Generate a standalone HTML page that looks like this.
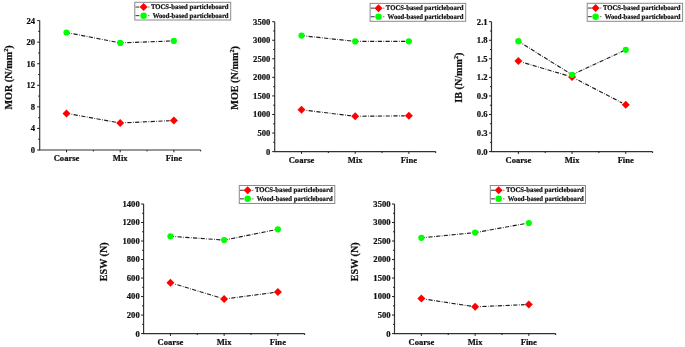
<!DOCTYPE html>
<html><head><meta charset="utf-8"><title>Particleboard properties</title>
<style>
html,body{margin:0;padding:0;background:#fff;}
body{width:685px;height:347px;overflow:hidden;font-family:"Liberation Serif",serif;}
svg{display:block;}
svg text{font-family:"Liberation Serif",serif;font-weight:bold;fill:#111;stroke:#111;stroke-width:0.22px;}
</style></head><body>
<svg width="685" height="347" viewBox="0 0 685 347">
<defs><filter id="soft" x="0" y="0" width="685" height="347" filterUnits="userSpaceOnUse"><feGaussianBlur stdDeviation="0.3"/></filter></defs>
<rect width="685" height="347" fill="#ffffff"/>
<g filter="url(#soft)">
<path d="M39.70 20.60V150.00H200.70" fill="none" stroke="#303030" stroke-width="1.15"/>
<text x="35.00" y="152.90" text-anchor="end" font-size="8.6">0</text>
<text x="35.00" y="131.33" text-anchor="end" font-size="8.6">4</text>
<text x="35.00" y="109.77" text-anchor="end" font-size="8.6">8</text>
<text x="35.00" y="88.20" text-anchor="end" font-size="8.6">12</text>
<text x="35.00" y="66.63" text-anchor="end" font-size="8.6">16</text>
<text x="35.00" y="45.07" text-anchor="end" font-size="8.6">20</text>
<text x="35.00" y="23.50" text-anchor="end" font-size="8.6">24</text>
<path d="M37.20 150.00H39.70M38.20 139.22H39.70M37.20 128.43H39.70M38.20 117.65H39.70M37.20 106.87H39.70M38.20 96.08H39.70M37.20 85.30H39.70M38.20 74.52H39.70M37.20 63.73H39.70M38.20 52.95H39.70M37.20 42.17H39.70M38.20 31.38H39.70M37.20 20.60H39.70M66.53 150.00v2.3M120.20 150.00v2.3M173.87 150.00v2.3M93.37 150.00v1.4M147.03 150.00v1.4M200.70 150.00v1.4" fill="none" stroke="#1c1c1c" stroke-width="1"/>
<text x="66.53" y="161.30" text-anchor="middle" font-size="8.6">Coarse</text>
<text x="120.20" y="161.30" text-anchor="middle" font-size="8.6">Mix</text>
<text x="173.87" y="161.30" text-anchor="middle" font-size="8.6">Fine</text>
<text transform="translate(11.70 77.40) rotate(-90)" text-anchor="middle" font-size="10.15">MOR (N/mm<tspan font-size="6.2" dy="-3.6">2</tspan><tspan dy="3.6">)</tspan></text>
<path d="M66.53 109.40l4 4l-4 4l-4 -4z" fill="#ff0000"/>
<path d="M120.20 119.00l4 4l-4 4l-4 -4z" fill="#ff0000"/>
<path d="M173.87 116.50l4 4l-4 4l-4 -4z" fill="#ff0000"/>
<circle cx="66.53" cy="32.50" r="3.1" fill="#00ff00"/>
<circle cx="120.20" cy="42.90" r="3.1" fill="#00ff00"/>
<circle cx="173.87" cy="40.90" r="3.1" fill="#00ff00"/>
<rect x="134.80" y="2.30" width="95.90" height="17.70" fill="#fff" stroke="#8a8a8a" stroke-width="1"/>
<path d="M135.50 7.05h3.9" stroke="#1c1c1c" stroke-width="1" stroke-opacity="0.9" fill="none"/>
<path d="M147.90 7.05h1.6" stroke="#1c1c1c" stroke-width="1" stroke-opacity="0.55" fill="none"/>
<path d="M135.50 15.65h3.9" stroke="#1c1c1c" stroke-width="1" stroke-opacity="0.9" fill="none"/>
<path d="M147.90 15.65h1.6" stroke="#1c1c1c" stroke-width="1" stroke-opacity="0.55" fill="none"/>
<path d="M143.60 3.05l4 4l-4 4l-4 -4z" fill="#ff0000"/>
<circle cx="143.60" cy="15.65" r="3.25" fill="#00ff00"/>
<text x="150.90" y="9.25" font-size="7.1" text-rendering="geometricPrecision" stroke="#151515" stroke-width="0.2" textLength="77.7" lengthAdjust="spacingAndGlyphs">TOCS-based particleboard</text>
<text x="152.70" y="17.65" font-size="7.1" text-rendering="geometricPrecision" stroke="#151515" stroke-width="0.2" textLength="75.9" lengthAdjust="spacingAndGlyphs">Wood-based particleboard</text>
<path d="M274.70 21.70V151.60H435.70" fill="none" stroke="#303030" stroke-width="1.15"/>
<text x="270.30" y="154.50" text-anchor="end" font-size="8.6">0</text>
<text x="270.30" y="135.94" text-anchor="end" font-size="8.6">500</text>
<text x="270.30" y="117.39" text-anchor="end" font-size="8.6">1000</text>
<text x="270.30" y="98.83" text-anchor="end" font-size="8.6">1500</text>
<text x="270.30" y="80.27" text-anchor="end" font-size="8.6">2000</text>
<text x="270.30" y="61.71" text-anchor="end" font-size="8.6">2500</text>
<text x="270.30" y="43.16" text-anchor="end" font-size="8.6">3000</text>
<text x="270.30" y="24.60" text-anchor="end" font-size="8.6">3500</text>
<path d="M272.20 151.60H274.70M273.20 142.32H274.70M272.20 133.04H274.70M273.20 123.76H274.70M272.20 114.49H274.70M273.20 105.21H274.70M272.20 95.93H274.70M273.20 86.65H274.70M272.20 77.37H274.70M273.20 68.09H274.70M272.20 58.81H274.70M273.20 49.54H274.70M272.20 40.26H274.70M273.20 30.98H274.70M272.20 21.70H274.70M301.53 151.60v2.3M355.20 151.60v2.3M408.87 151.60v2.3M328.37 151.60v1.4M382.03 151.60v1.4M435.70 151.60v1.4" fill="none" stroke="#1c1c1c" stroke-width="1"/>
<text x="301.53" y="162.90" text-anchor="middle" font-size="8.6">Coarse</text>
<text x="355.20" y="162.90" text-anchor="middle" font-size="8.6">Mix</text>
<text x="408.87" y="162.90" text-anchor="middle" font-size="8.6">Fine</text>
<text transform="translate(237.80 77.90) rotate(-90)" text-anchor="middle" font-size="10.15">MOE (N/mm<tspan font-size="6.2" dy="-3.6">2</tspan><tspan dy="3.6">)</tspan></text>
<path d="M301.53 105.80l4 4l-4 4l-4 -4z" fill="#ff0000"/>
<path d="M355.20 112.30l4 4l-4 4l-4 -4z" fill="#ff0000"/>
<path d="M408.87 111.80l4 4l-4 4l-4 -4z" fill="#ff0000"/>
<circle cx="301.53" cy="35.60" r="3.1" fill="#00ff00"/>
<circle cx="355.20" cy="41.40" r="3.1" fill="#00ff00"/>
<circle cx="408.87" cy="41.30" r="3.1" fill="#00ff00"/>
<rect x="370.10" y="3.40" width="95.60" height="17.90" fill="#fff" stroke="#8a8a8a" stroke-width="1"/>
<path d="M370.80 8.15h3.9" stroke="#1c1c1c" stroke-width="1" stroke-opacity="0.9" fill="none"/>
<path d="M382.80 8.15h1.6" stroke="#1c1c1c" stroke-width="1" stroke-opacity="0.55" fill="none"/>
<path d="M370.80 16.75h3.9" stroke="#1c1c1c" stroke-width="1" stroke-opacity="0.9" fill="none"/>
<path d="M382.80 16.75h1.6" stroke="#1c1c1c" stroke-width="1" stroke-opacity="0.55" fill="none"/>
<path d="M378.50 4.15l4 4l-4 4l-4 -4z" fill="#ff0000"/>
<circle cx="378.50" cy="16.75" r="3.25" fill="#00ff00"/>
<text x="385.80" y="10.35" font-size="7.1" text-rendering="geometricPrecision" stroke="#151515" stroke-width="0.2" textLength="77.7" lengthAdjust="spacingAndGlyphs">TOCS-based particleboard</text>
<text x="387.60" y="18.75" font-size="7.1" text-rendering="geometricPrecision" stroke="#151515" stroke-width="0.2" textLength="75.9" lengthAdjust="spacingAndGlyphs">Wood-based particleboard</text>
<path d="M491.50 21.70V151.60H652.60" fill="none" stroke="#303030" stroke-width="1.15"/>
<text x="487.60" y="154.50" text-anchor="end" font-size="8.6">0.0</text>
<text x="487.60" y="135.94" text-anchor="end" font-size="8.6">0.3</text>
<text x="487.60" y="117.39" text-anchor="end" font-size="8.6">0.6</text>
<text x="487.60" y="98.83" text-anchor="end" font-size="8.6">0.9</text>
<text x="487.60" y="80.27" text-anchor="end" font-size="8.6">1.2</text>
<text x="487.60" y="61.71" text-anchor="end" font-size="8.6">1.5</text>
<text x="487.60" y="43.16" text-anchor="end" font-size="8.6">1.8</text>
<text x="487.60" y="24.60" text-anchor="end" font-size="8.6">2.1</text>
<path d="M489.00 151.60H491.50M490.00 142.32H491.50M489.00 133.04H491.50M490.00 123.76H491.50M489.00 114.49H491.50M490.00 105.21H491.50M489.00 95.93H491.50M490.00 86.65H491.50M489.00 77.37H491.50M490.00 68.09H491.50M489.00 58.81H491.50M490.00 49.54H491.50M489.00 40.26H491.50M490.00 30.98H491.50M489.00 21.70H491.50M518.35 151.60v2.3M572.05 151.60v2.3M625.75 151.60v2.3M545.20 151.60v1.4M598.90 151.60v1.4M652.60 151.60v1.4" fill="none" stroke="#1c1c1c" stroke-width="1"/>
<text x="518.35" y="162.90" text-anchor="middle" font-size="8.6">Coarse</text>
<text x="572.05" y="162.90" text-anchor="middle" font-size="8.6">Mix</text>
<text x="625.75" y="162.90" text-anchor="middle" font-size="8.6">Fine</text>
<text transform="translate(461.70 77.60) rotate(-90)" text-anchor="middle" font-size="10.15">IB (N/mm<tspan font-size="6.2" dy="-3.6">2</tspan><tspan dy="3.6">)</tspan></text>
<path d="M518.35 57.10l4 4l-4 4l-4 -4z" fill="#ff0000"/>
<path d="M572.05 73.00l4 4l-4 4l-4 -4z" fill="#ff0000"/>
<path d="M625.75 100.80l4 4l-4 4l-4 -4z" fill="#ff0000"/>
<circle cx="518.35" cy="41.20" r="3.1" fill="#00ff00"/>
<circle cx="572.05" cy="74.80" r="3.1" fill="#00ff00"/>
<circle cx="625.75" cy="49.80" r="3.1" fill="#00ff00"/>
<rect x="587.20" y="3.30" width="95.40" height="18.00" fill="#fff" stroke="#8a8a8a" stroke-width="1"/>
<path d="M587.90 8.05h3.9" stroke="#1c1c1c" stroke-width="1" stroke-opacity="0.9" fill="none"/>
<path d="M599.90 8.05h1.6" stroke="#1c1c1c" stroke-width="1" stroke-opacity="0.55" fill="none"/>
<path d="M587.90 16.65h3.9" stroke="#1c1c1c" stroke-width="1" stroke-opacity="0.9" fill="none"/>
<path d="M599.90 16.65h1.6" stroke="#1c1c1c" stroke-width="1" stroke-opacity="0.55" fill="none"/>
<path d="M595.60 4.05l4 4l-4 4l-4 -4z" fill="#ff0000"/>
<circle cx="595.60" cy="16.65" r="3.25" fill="#00ff00"/>
<text x="602.90" y="10.25" font-size="7.1" text-rendering="geometricPrecision" stroke="#151515" stroke-width="0.2" textLength="77.7" lengthAdjust="spacingAndGlyphs">TOCS-based particleboard</text>
<text x="604.70" y="18.65" font-size="7.1" text-rendering="geometricPrecision" stroke="#151515" stroke-width="0.2" textLength="75.9" lengthAdjust="spacingAndGlyphs">Wood-based particleboard</text>
<path d="M143.60 204.00V333.60H304.70" fill="none" stroke="#303030" stroke-width="1.15"/>
<text x="139.70" y="336.50" text-anchor="end" font-size="8.6">0</text>
<text x="139.70" y="317.99" text-anchor="end" font-size="8.6">200</text>
<text x="139.70" y="299.47" text-anchor="end" font-size="8.6">400</text>
<text x="139.70" y="280.96" text-anchor="end" font-size="8.6">600</text>
<text x="139.70" y="262.44" text-anchor="end" font-size="8.6">800</text>
<text x="139.70" y="243.93" text-anchor="end" font-size="8.6">1000</text>
<text x="139.70" y="225.41" text-anchor="end" font-size="8.6">1200</text>
<text x="139.70" y="206.90" text-anchor="end" font-size="8.6">1400</text>
<path d="M141.10 333.60H143.60M142.10 324.34H143.60M141.10 315.09H143.60M142.10 305.83H143.60M141.10 296.57H143.60M142.10 287.31H143.60M141.10 278.06H143.60M142.10 268.80H143.60M141.10 259.54H143.60M142.10 250.29H143.60M141.10 241.03H143.60M142.10 231.77H143.60M141.10 222.51H143.60M142.10 213.26H143.60M141.10 204.00H143.60M170.45 333.60v2.3M224.15 333.60v2.3M277.85 333.60v2.3M197.30 333.60v1.4M251.00 333.60v1.4M304.70 333.60v1.4" fill="none" stroke="#1c1c1c" stroke-width="1"/>
<text x="170.45" y="344.90" text-anchor="middle" font-size="8.6">Coarse</text>
<text x="224.15" y="344.90" text-anchor="middle" font-size="8.6">Mix</text>
<text x="277.85" y="344.90" text-anchor="middle" font-size="8.6">Fine</text>
<text transform="translate(106.80 261.80) rotate(-90)" text-anchor="middle" font-size="10.15">ESW (N)</text>
<path d="M170.45 278.70l4 4l-4 4l-4 -4z" fill="#ff0000"/>
<path d="M224.15 295.00l4 4l-4 4l-4 -4z" fill="#ff0000"/>
<path d="M277.85 288.00l4 4l-4 4l-4 -4z" fill="#ff0000"/>
<circle cx="170.45" cy="236.30" r="3.1" fill="#00ff00"/>
<circle cx="224.15" cy="240.10" r="3.1" fill="#00ff00"/>
<circle cx="277.85" cy="229.30" r="3.1" fill="#00ff00"/>
<rect x="239.30" y="185.50" width="95.50" height="18.00" fill="#fff" stroke="#8a8a8a" stroke-width="1"/>
<path d="M240.00 190.25h3.9" stroke="#1c1c1c" stroke-width="1" stroke-opacity="0.9" fill="none"/>
<path d="M251.95 190.25h1.6" stroke="#1c1c1c" stroke-width="1" stroke-opacity="0.55" fill="none"/>
<path d="M240.00 198.85h3.9" stroke="#1c1c1c" stroke-width="1" stroke-opacity="0.9" fill="none"/>
<path d="M251.95 198.85h1.6" stroke="#1c1c1c" stroke-width="1" stroke-opacity="0.55" fill="none"/>
<path d="M247.65 186.25l4 4l-4 4l-4 -4z" fill="#ff0000"/>
<circle cx="247.65" cy="198.85" r="3.25" fill="#00ff00"/>
<text x="254.95" y="192.45" font-size="7.1" text-rendering="geometricPrecision" stroke="#151515" stroke-width="0.2" textLength="77.7" lengthAdjust="spacingAndGlyphs">TOCS-based particleboard</text>
<text x="256.75" y="200.85" font-size="7.1" text-rendering="geometricPrecision" stroke="#151515" stroke-width="0.2" textLength="75.9" lengthAdjust="spacingAndGlyphs">Wood-based particleboard</text>
<path d="M394.50 204.00V333.60H555.70" fill="none" stroke="#303030" stroke-width="1.15"/>
<text x="390.55" y="336.50" text-anchor="end" font-size="8.6">0</text>
<text x="390.55" y="317.99" text-anchor="end" font-size="8.6">500</text>
<text x="390.55" y="299.47" text-anchor="end" font-size="8.6">1000</text>
<text x="390.55" y="280.96" text-anchor="end" font-size="8.6">1500</text>
<text x="390.55" y="262.44" text-anchor="end" font-size="8.6">2000</text>
<text x="390.55" y="243.93" text-anchor="end" font-size="8.6">2500</text>
<text x="390.55" y="225.41" text-anchor="end" font-size="8.6">3000</text>
<text x="390.55" y="206.90" text-anchor="end" font-size="8.6">3500</text>
<path d="M392.00 333.60H394.50M393.00 324.34H394.50M392.00 315.09H394.50M393.00 305.83H394.50M392.00 296.57H394.50M393.00 287.31H394.50M392.00 278.06H394.50M393.00 268.80H394.50M392.00 259.54H394.50M393.00 250.29H394.50M392.00 241.03H394.50M393.00 231.77H394.50M392.00 222.51H394.50M393.00 213.26H394.50M392.00 204.00H394.50M421.37 333.60v2.3M475.10 333.60v2.3M528.83 333.60v2.3M448.23 333.60v1.4M501.97 333.60v1.4M555.70 333.60v1.4" fill="none" stroke="#1c1c1c" stroke-width="1"/>
<text x="421.37" y="344.90" text-anchor="middle" font-size="8.6">Coarse</text>
<text x="475.10" y="344.90" text-anchor="middle" font-size="8.6">Mix</text>
<text x="528.83" y="344.90" text-anchor="middle" font-size="8.6">Fine</text>
<text transform="translate(357.80 261.80) rotate(-90)" text-anchor="middle" font-size="10.15">ESW (N)</text>
<path d="M421.37 294.60l4 4l-4 4l-4 -4z" fill="#ff0000"/>
<path d="M475.10 302.80l4 4l-4 4l-4 -4z" fill="#ff0000"/>
<path d="M528.83 300.50l4 4l-4 4l-4 -4z" fill="#ff0000"/>
<circle cx="421.37" cy="237.80" r="3.1" fill="#00ff00"/>
<circle cx="475.10" cy="232.60" r="3.1" fill="#00ff00"/>
<circle cx="528.83" cy="223.00" r="3.1" fill="#00ff00"/>
<rect x="490.30" y="185.50" width="95.20" height="18.00" fill="#fff" stroke="#8a8a8a" stroke-width="1"/>
<path d="M491.00 190.25h3.9" stroke="#1c1c1c" stroke-width="1" stroke-opacity="0.9" fill="none"/>
<path d="M502.95 190.25h1.6" stroke="#1c1c1c" stroke-width="1" stroke-opacity="0.55" fill="none"/>
<path d="M491.00 198.85h3.9" stroke="#1c1c1c" stroke-width="1" stroke-opacity="0.9" fill="none"/>
<path d="M502.95 198.85h1.6" stroke="#1c1c1c" stroke-width="1" stroke-opacity="0.55" fill="none"/>
<path d="M498.65 186.25l4 4l-4 4l-4 -4z" fill="#ff0000"/>
<circle cx="498.65" cy="198.85" r="3.25" fill="#00ff00"/>
<text x="505.95" y="192.45" font-size="7.1" text-rendering="geometricPrecision" stroke="#151515" stroke-width="0.2" textLength="77.7" lengthAdjust="spacingAndGlyphs">TOCS-based particleboard</text>
<text x="507.75" y="200.85" font-size="7.1" text-rendering="geometricPrecision" stroke="#151515" stroke-width="0.2" textLength="75.9" lengthAdjust="spacingAndGlyphs">Wood-based particleboard</text>
</g>
<g>
<path d="M70.67 114.14L116.07 122.26" fill="none" stroke="#1c1c1c" stroke-width="1.15" stroke-dasharray="4.2 1.45 0.7 1.4" stroke-dashoffset="4.75"/>
<path d="M124.40 122.80L169.67 120.70" fill="none" stroke="#1c1c1c" stroke-width="1.15" stroke-dasharray="4.2 1.45 0.7 1.4" stroke-dashoffset="4.75"/>
<path d="M69.48 33.07L117.25 42.33" fill="none" stroke="#1c1c1c" stroke-width="1.15" stroke-dasharray="4.2 1.45 0.7 1.4" stroke-dashoffset="3.65"/>
<path d="M123.20 42.79L170.87 41.01" fill="none" stroke="#1c1c1c" stroke-width="1.15" stroke-dasharray="4.2 1.45 0.7 1.4" stroke-dashoffset="3.65"/>
<path d="M305.70 110.31L351.03 115.79" fill="none" stroke="#1c1c1c" stroke-width="1.15" stroke-dasharray="4.2 1.45 0.7 1.4" stroke-dashoffset="4.75"/>
<path d="M359.40 116.26L404.67 115.84" fill="none" stroke="#1c1c1c" stroke-width="1.15" stroke-dasharray="4.2 1.45 0.7 1.4" stroke-dashoffset="4.75"/>
<path d="M304.52 35.92L352.22 41.08" fill="none" stroke="#1c1c1c" stroke-width="1.15" stroke-dasharray="4.2 1.45 0.7 1.4" stroke-dashoffset="3.65"/>
<path d="M358.20 41.39L405.87 41.31" fill="none" stroke="#1c1c1c" stroke-width="1.15" stroke-dasharray="4.2 1.45 0.7 1.4" stroke-dashoffset="3.65"/>
<path d="M522.38 62.29L568.02 75.81" fill="none" stroke="#1c1c1c" stroke-width="1.15" stroke-dasharray="4.2 1.45 0.7 1.4" stroke-dashoffset="4.75"/>
<path d="M575.78 78.93L622.02 102.87" fill="none" stroke="#1c1c1c" stroke-width="1.15" stroke-dasharray="4.2 1.45 0.7 1.4" stroke-dashoffset="4.75"/>
<path d="M520.89 42.79L569.51 73.21" fill="none" stroke="#1c1c1c" stroke-width="1.15" stroke-dasharray="4.2 1.45 0.7 1.4" stroke-dashoffset="3.65"/>
<path d="M574.77 73.53L623.03 51.07" fill="none" stroke="#1c1c1c" stroke-width="1.15" stroke-dasharray="4.2 1.45 0.7 1.4" stroke-dashoffset="3.65"/>
<path d="M174.47 283.92L220.13 297.78" fill="none" stroke="#1c1c1c" stroke-width="1.15" stroke-dasharray="4.2 1.45 0.7 1.4" stroke-dashoffset="4.75"/>
<path d="M228.31 298.46L273.69 292.54" fill="none" stroke="#1c1c1c" stroke-width="1.15" stroke-dasharray="4.2 1.45 0.7 1.4" stroke-dashoffset="4.75"/>
<path d="M173.44 236.51L221.16 239.89" fill="none" stroke="#1c1c1c" stroke-width="1.15" stroke-dasharray="4.2 1.45 0.7 1.4" stroke-dashoffset="3.65"/>
<path d="M227.09 239.51L274.91 229.89" fill="none" stroke="#1c1c1c" stroke-width="1.15" stroke-dasharray="4.2 1.45 0.7 1.4" stroke-dashoffset="3.65"/>
<path d="M425.52 299.23L470.95 306.17" fill="none" stroke="#1c1c1c" stroke-width="1.15" stroke-dasharray="4.2 1.45 0.7 1.4" stroke-dashoffset="4.75"/>
<path d="M479.30 306.62L524.64 304.68" fill="none" stroke="#1c1c1c" stroke-width="1.15" stroke-dasharray="4.2 1.45 0.7 1.4" stroke-dashoffset="4.75"/>
<path d="M424.35 237.51L472.11 232.89" fill="none" stroke="#1c1c1c" stroke-width="1.15" stroke-dasharray="4.2 1.45 0.7 1.4" stroke-dashoffset="3.65"/>
<path d="M478.05 232.07L525.88 223.53" fill="none" stroke="#1c1c1c" stroke-width="1.15" stroke-dasharray="4.2 1.45 0.7 1.4" stroke-dashoffset="3.65"/>
</g>
</svg>
</body></html>
